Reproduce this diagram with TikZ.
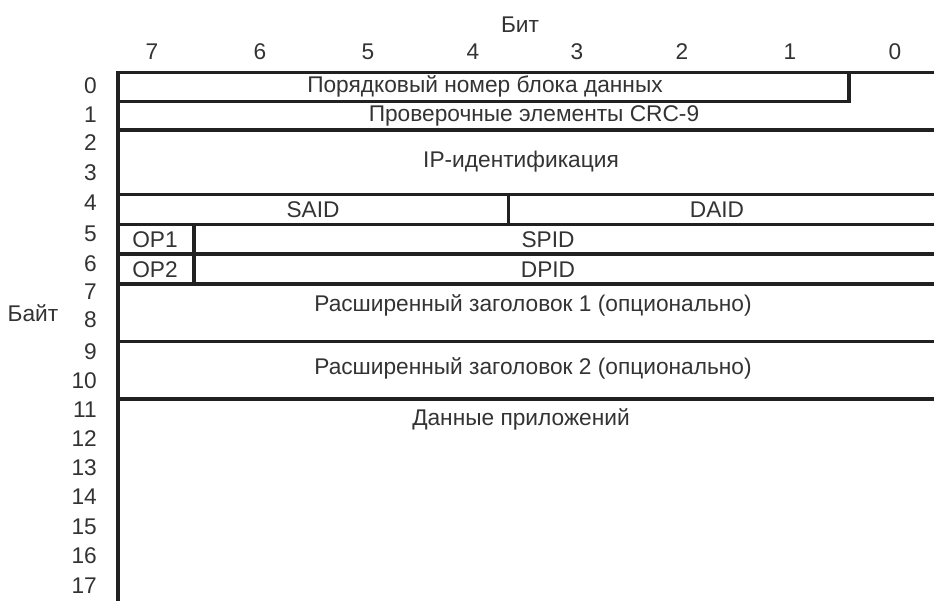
\documentclass[tikz,border=0pt]{standalone}
\usepackage{fontspec}
\setmainfont{Liberation Sans}
\begin{document}
\begin{tikzpicture}[x=1pt,y=-1pt,
  frame/.style={draw=black!87, line width=3.4pt},
  lbl/.style={text=black!80, font=\fontsize{22.7}{24}\selectfont, inner sep=0pt, anchor=center},
  num/.style={lbl, anchor=east},
]
\useasboundingbox (0,0) rectangle (934,601);
% axis titles
\node[lbl] (bit) at (520,25) {Бит};
\node[lbl] (byte) at (33,313) {Байт};
% bit numbers
\foreach \b/\x in {7/152,6/260,5/368,4/473,3/577,2/682,1/790,0/895}
  \node[lbl] (b\b) at (\x,52) {\b};
% byte numbers
\foreach \n/\y in {0/86,1/115,2/143,3/173,4/203,5/234,6/264,7/292,8/320,9/352,10/381,11/410,12/439,13/468,14/497,15/527,16/556,17/586}
  \node[num] (n\n) at (97,\y) {\n};
% frame
\coordinate (tl) at (118,72.7);
\coordinate (bl) at (118,601);
\draw[frame] (940,72.7) -- (tl) -- (bl);
\draw[frame] (118,101.5) -- (849,101.5) -- (849,72.7);
\foreach \y in {130,194.5,224.3,254,284,341.3,399}
  \draw[frame] (118,\y) -- (940,\y);
\draw[frame] (508.3,194.5) -- (508.3,224.3);
\draw[frame] (194,224.3) -- (194,284);
% fields
\node[lbl] (f0) at (485,86) {Порядковый номер блока данных};
\node[lbl] (f1) at (534,115.5) {Проверочные элементы CRC-9};
\node[lbl] (f2) at (521,162) {IP-идентификация};
\node[lbl] (said) at (313,210) {SAID};
\node[lbl] (daid) at (717,210) {DAID};
\node[lbl] (op1) at (155,240) {OP1};
\node[lbl] (op2) at (155,269.5) {OP2};
\node[lbl] (spid) at (548,240) {SPID};
\node[lbl] (dpid) at (548,269.5) {DPID};
\node[lbl] (e1) at (533,305) {Расширенный заголовок 1 (опционально)};
\node[lbl] (e2) at (533,368) {Расширенный заголовок 2 (опционально)};
\node[lbl] (data) at (521,419) {Данные приложений};
\end{tikzpicture}
\end{document}
